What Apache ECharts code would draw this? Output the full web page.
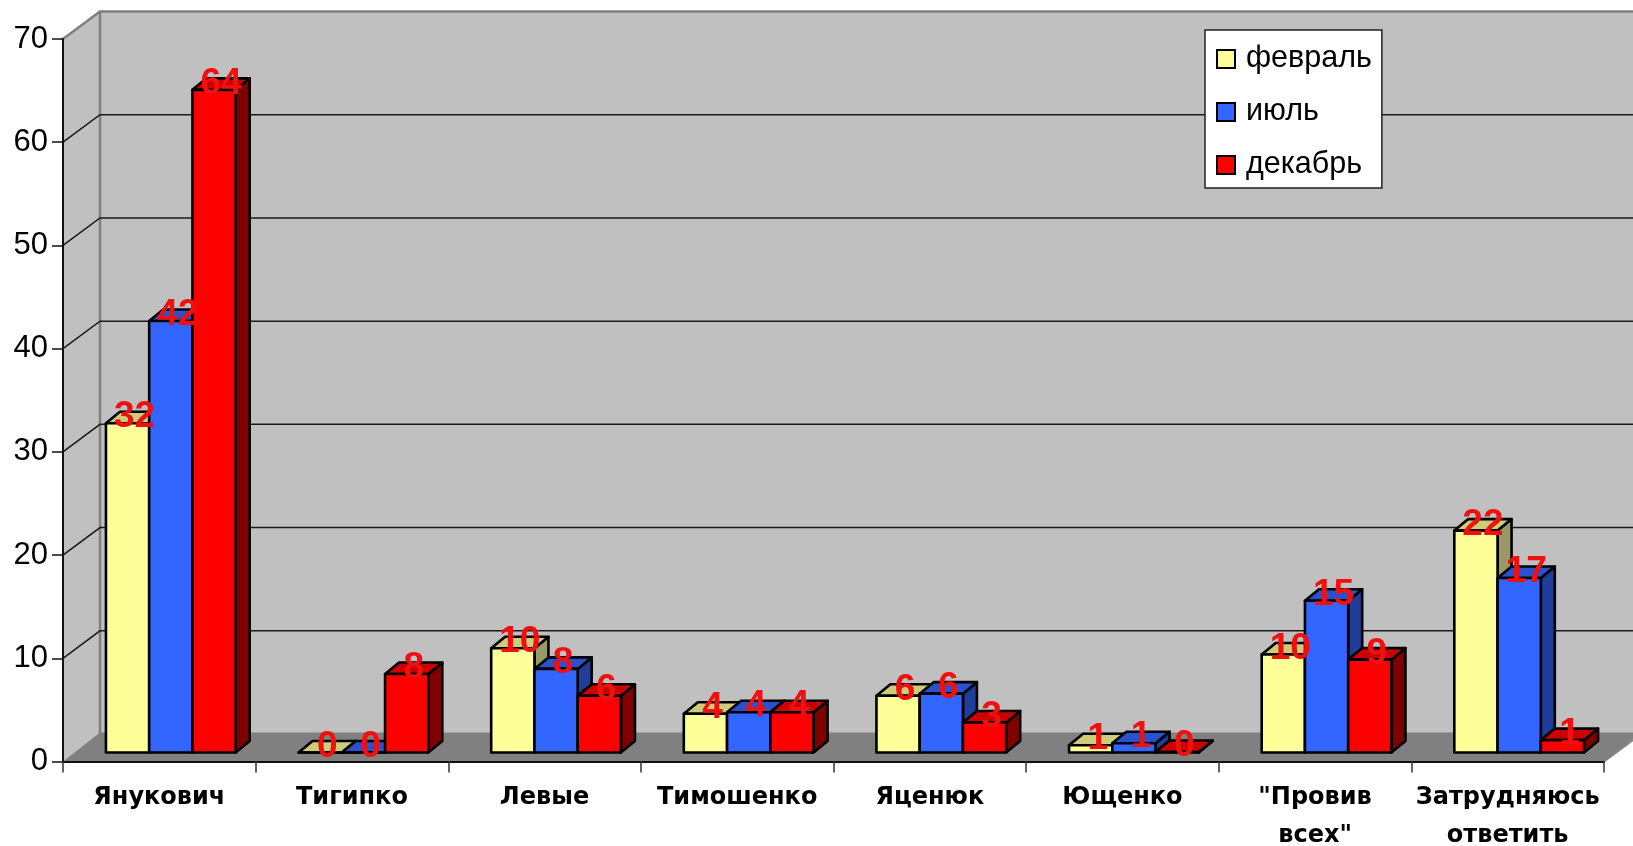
<!DOCTYPE html>
<html>
<head>
<meta charset="utf-8">
<script src="https://cdn.jsdelivr.net/npm/echarts@6/dist/echarts.min.js"></script>
<style>html,body{margin:0;padding:0;background:#fff}#c{width:1633px;height:846px}</style>
</head>
<body>
<div id="c"></div>
<script>
var categories = ['Янукович', 'Тигипко', 'Левые', 'Тимошенко', 'Яценюк', 'Ющенко', '"Провив\nвсех"', 'Затрудняюсь\nответить'];
var february = [31.9, 0, 10.1, 3.75, 5.5, 0.7, 9.5, 21.5];
var july = [41.8, 0, 8.1, 3.9, 5.7, 0.9, 14.7, 16.9];
var december = [64.2, 7.6, 5.5, 3.9, 2.9, 0.05, 9.0, 1.2];
var yTicks = [10, 20, 30, 40, 50, 60];

var monthNames = ['февраль', 'июль', 'декабрь'];
var monthValues = [february, july, december];
var frontColors = ['#FFFF99', '#3366FF', '#FF0000'];
var topColors = ['#CCCC7A', '#2952CC', '#CC0000'];
var sideColors = ['#999966', '#1F3D99', '#800000'];

var WALL_DX = 37, WALL_DY = -27.5;
var BAR_SHIFT_X = 11.5, BAR_SHIFT_Y = -9;
var DEPTH_X = 14, DEPTH_Y = -11.5;
var BAR_FRACTION = 0.2245;
var EDGE = { stroke: '#000', lineWidth: 2.6, lineJoin: 'round' };

function bandWidth(params) { return params.coordSys.width / categories.length; }

function renderWalls(params, api) {
  var cs = params.coordSys;
  var x0 = cs.x, x1 = cs.x + cs.width;
  var yBottom = api.coord([0, 0])[1], yTop = api.coord([0, 70])[1];
  var bx = x0 + WALL_DX, tx = x1 + WALL_DX;
  var wall = '#C0C0C0', floor = '#808080', border = '#808080';
  return {
    type: 'group',
    children: [
      { type: 'polygon', shape: { points: [[x0, yBottom], [bx, yBottom + WALL_DY], [bx, yTop + WALL_DY], [x0, yTop]] }, style: { fill: wall } },
      { type: 'rect', shape: { x: bx, y: yTop + WALL_DY, width: tx - bx, height: yBottom - yTop }, style: { fill: wall } },
      { type: 'polygon', shape: { points: [[x0, yBottom], [bx, yBottom + WALL_DY - 1.5], [tx, yBottom + WALL_DY - 1.5], [x1, yBottom]] }, style: { fill: floor } },
      { type: 'polyline', shape: { points: [[x0, yTop], [bx, yTop + WALL_DY], [tx, yTop + WALL_DY]] }, style: { fill: 'none', stroke: border, lineWidth: 2.5 } },
      { type: 'line', shape: { x1: bx, y1: yTop + WALL_DY, x2: bx, y2: yBottom + WALL_DY }, style: { stroke: border, lineWidth: 2.5 } },
      { type: 'line', shape: { x1: x1, y1: yBottom, x2: tx, y2: yBottom + WALL_DY }, style: { stroke: border, lineWidth: 2 } }
    ]
  };
}

function renderGridLine(params, api) {
  var cs = params.coordSys;
  var y = api.coord([0, api.value(0)])[1];
  var bx = cs.x + WALL_DX, tx = cs.x + cs.width + WALL_DX;
  return {
    type: 'polyline',
    shape: { points: [[cs.x, y], [bx, y + WALL_DY], [tx, y + WALL_DY]] },
    style: { fill: 'none', stroke: '#1a1a1a', lineWidth: 1.5 }
  };
}

function makeBarRenderer(m) {
  return function (params, api) {
    var band = bandWidth(params);
    var w = band * BAR_FRACTION;
    var top = api.coord([api.value(0), api.value(1)]);
    var base = api.coord([api.value(0), 0]);
    var l = top[0] + (m - 1.5) * w + BAR_SHIFT_X;
    var r = l + w;
    var t = top[1] + BAR_SHIFT_Y;
    var b = base[1] + BAR_SHIFT_Y;
    return {
      type: 'group',
      children: [
        { type: 'polygon', shape: { points: [[r, b], [r + DEPTH_X, b + DEPTH_Y], [r + DEPTH_X, t + DEPTH_Y], [r, t]] }, style: Object.assign({ fill: sideColors[m] }, EDGE) },
        { type: 'polygon', shape: { points: [[l, t], [l + DEPTH_X, t + DEPTH_Y], [r + DEPTH_X, t + DEPTH_Y], [r, t]] }, style: Object.assign({ fill: topColors[m] }, EDGE) },
        { type: 'rect', shape: { x: l, y: t, width: w, height: b - t }, style: Object.assign({ fill: frontColors[m] }, EDGE) }
      ]
    };
  };
}

function renderLabel(params, api) {
  var band = bandWidth(params);
  var w = band * BAR_FRACTION;
  var m = api.value(2);
  var v = api.value(1);
  var top = api.coord([api.value(0), v]);
  return {
    type: 'text',
    style: {
      x: top[0] + (m - 1) * w + BAR_SHIFT_X + 7,
      y: top[1] + BAR_SHIFT_Y - 6,
      text: String(Math.round(v)),
      fill: '#F01010',
      font: 'bold 37px "Liberation Sans", Arial, sans-serif',
      align: 'center',
      verticalAlign: 'middle'
    }
  };
}

var labelRows = [];
monthValues.forEach(function (vals, m) {
  vals.forEach(function (v, i) { labelRows.push([i, v, m]); });
});

var series = [
  { type: 'custom', name: 'walls', z: 1, silent: true, clip: false, coordinateSystem: 'cartesian2d', renderItem: renderWalls, data: [[0]], encode: { x: 0 } },
  { type: 'custom', name: 'grid', z: 1, silent: true, clip: false, coordinateSystem: 'cartesian2d', renderItem: renderGridLine, data: yTicks.map(function (t) { return [t]; }), encode: { y: 0 } }
];
monthNames.forEach(function (name, m) {
  series.push({
    type: 'custom', name: name, z: 3, clip: false, silent: true,
    coordinateSystem: 'cartesian2d',
    itemStyle: { color: frontColors[m] },
    renderItem: makeBarRenderer(m),
    data: monthValues[m].map(function (v, i) { return [i, v]; }),
    encode: { x: 0, y: 1 }
  });
});
series.push({ type: 'custom', name: 'labels', z: 6, clip: false, silent: true, coordinateSystem: 'cartesian2d', renderItem: renderLabel, data: labelRows, encode: { x: 0, y: 1 } });

var chart = echarts.init(document.getElementById('c'), null, { renderer: 'canvas' });
chart.setOption({
  animation: false,
  backgroundColor: '#fff',
  grid: { left: 63, right: 29, top: 39, bottom: 84.5, containLabel: false, outerBoundsMode: 'none' },
  tooltip: { show: false },
  legend: {
    left: 1205, top: 30, orient: 'vertical', z: 8,
    data: monthNames.map(function (n, m) {
      return { name: n, icon: 'rect', itemStyle: { color: frontColors[m], borderColor: '#000', borderWidth: 2 } };
    }),
    itemWidth: 18, itemHeight: 18, itemGap: 13,
    padding: [9, 10, 3, 11],
    backgroundColor: '#fff', borderColor: '#222', borderWidth: 1.5,
    selectedMode: false,
    textStyle: { color: '#000', fontSize: 30.5, lineHeight: 30, padding: [10, 0, 0, 6], fontFamily: '"Liberation Sans", Arial, sans-serif' }
  },
  xAxis: {
    type: 'category', data: categories, z: 5,
    axisLine: { show: true, lineStyle: { color: '#111', width: 2 } },
    axisTick: { show: true, alignWithLabel: false, length: 11, lineStyle: { color: '#333', width: 1.5 } },
    axisLabel: { interval: 0, margin: 17, color: '#000', fontFamily: '"DejaVu Sans", sans-serif', fontWeight: 'bold', fontSize: 24, lineHeight: 38, hideOverlap: false },
    splitLine: { show: false }
  },
  yAxis: {
    type: 'value', min: 0, max: 70, interval: 10, z: 5,
    axisLine: { show: true, lineStyle: { color: '#111', width: 2 } },
    axisTick: { show: true, length: 11, lineStyle: { color: '#111', width: 1.5 } },
    axisLabel: { margin: 15, color: '#000', fontFamily: '"Liberation Sans", Arial, sans-serif', fontSize: 31, padding: [5, 0, 0, 0] },
    splitLine: { show: false }
  },
  series: series
});
</script>
</body>
</html>
